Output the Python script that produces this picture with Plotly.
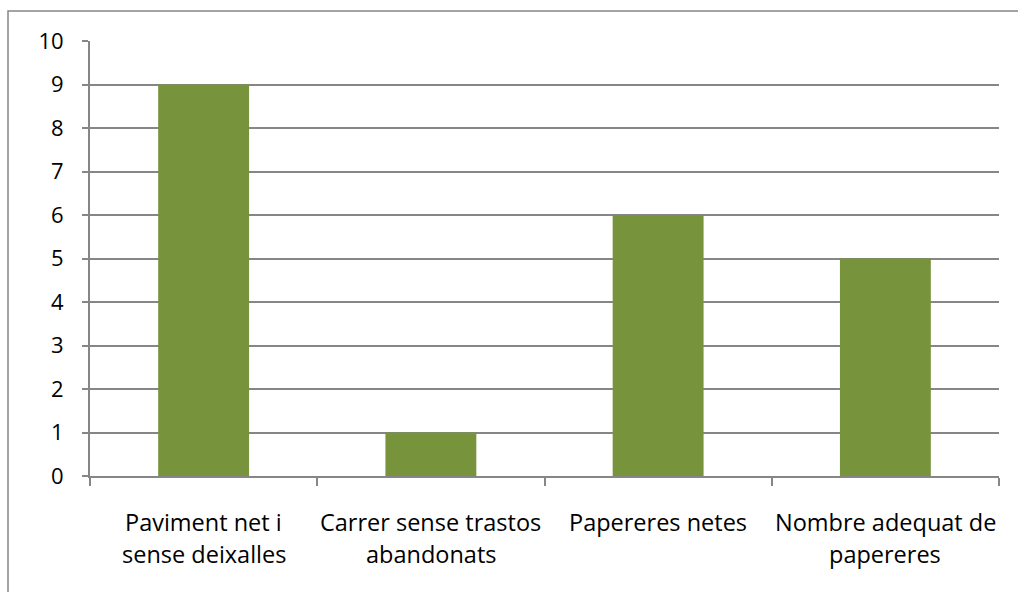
import plotly.graph_objects as go

categories = [
    "Paviment net i<br>sense deixalles",
    "Carrer sense trastos<br>abandonats",
    "Papereres netes",
    "Nombre adequat de<br>papereres",
]
values = [9, 1, 6, 5]
y_ticks = list(range(0, 11))

GRID = "#868686"
BAR = "#77933C"
FONT = "Open Sans, sans-serif"
FS_CAT = 23.5
FS_Y = 22

W, H = 1018, 592
L, R, T, B = 90, 19, 41, 116
pw, ph = W - L - R, H - T - B

fig = go.Figure(
    go.Bar(
        x=categories,
        y=values,
        marker=dict(color=BAR, line=dict(width=0)),
        width=0.4,
    )
)

# category labels drawn line by line for wider line spacing
annotations = []
for cat in categories:
    for i, line in enumerate(cat.split("<br>")):
        annotations.append(
            dict(
                x=cat,
                y=0,
                xref="x",
                yref="paper",
                text=line,
                showarrow=False,
                xanchor="center",
                yanchor="middle",
                yshift=-46 - 32 * i,
                font=dict(family=FONT, size=FS_CAT, color="#000000"),
            )
        )

fig.update_layout(
    width=W,
    height=H,
    margin=dict(l=L, r=R, t=T, b=B, pad=0),
    paper_bgcolor="white",
    plot_bgcolor="white",
    showlegend=False,
    font=dict(family=FONT, size=FS_Y, color="#000000"),
    xaxis=dict(
        type="category",
        tickson="boundaries",
        ticks="outside",
        ticklen=8,
        tickwidth=2,
        tickcolor=GRID,
        showgrid=False,
        showline=True,
        linecolor=GRID,
        linewidth=2,
        showticklabels=False,
        range=[-0.5, 3.5],
    ),
    yaxis=dict(
        range=[0, 10],
        tickvals=y_ticks,
        ticks="outside",
        ticklen=6,
        tickwidth=2,
        tickcolor=GRID,
        showgrid=True,
        gridcolor=GRID,
        gridwidth=2,
        showline=True,
        linecolor=GRID,
        linewidth=2,
        zeroline=False,
        tickfont=dict(size=FS_Y),
        ticklabelstandoff=14,
    ),
    annotations=annotations,
    shapes=[
        dict(
            type="rect",
            xref="paper",
            yref="paper",
            x0=(8 - L) / pw,
            x1=(W + 10 - L) / pw,
            y0=-(H + 10 - (T + ph)) / ph,
            y1=(T + ph - 11) / ph,
            line=dict(color=GRID, width=1.5),
            fillcolor="rgba(0,0,0,0)",
            layer="below",
        )
    ],
)

fig.write_html("out.html")
